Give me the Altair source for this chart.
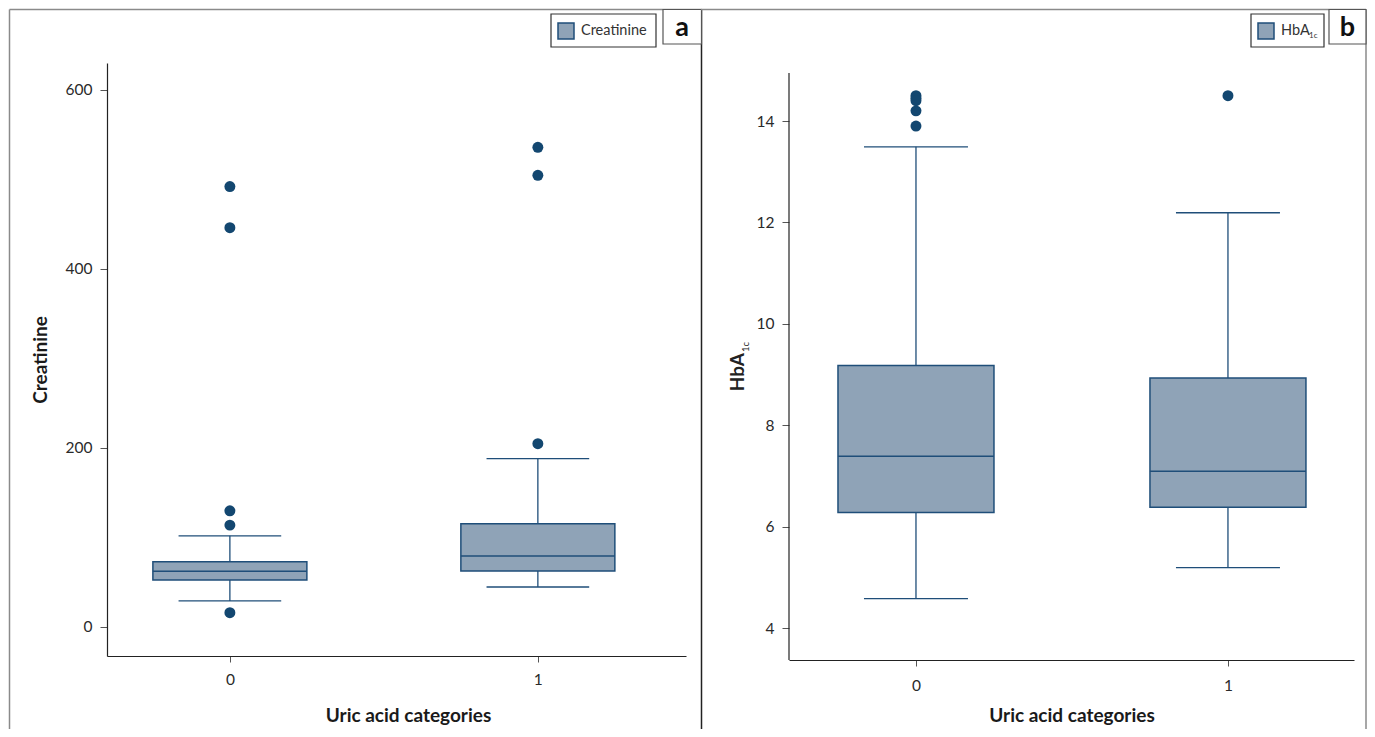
import altair as alt
import pandas as pd

# ---------------- data ----------------
cats = [0, 1]

cre_lower = [29.1, 44.7]
cre_q1 = [52.6, 62.6]
cre_median = [62.3, 79.4]
cre_q3 = [73.0, 115.2]
cre_upper = [101.8, 188.0]
cre_out_cat = [0, 0, 0, 0, 0, 1, 1, 1]
cre_out_val = [492.0, 446.0, 129.8, 113.8, 16.0, 535.8, 504.5, 204.7]

hba_lower = [4.58, 5.19]
hba_q1 = [6.28, 6.38]
hba_median = [7.39, 7.09]
hba_q3 = [9.18, 8.93]
hba_upper = [13.49, 12.19]
hba_out_cat = [0, 0, 0, 0, 0, 1]
hba_out_val = [14.50, 14.45, 14.40, 14.20, 13.90, 14.50]

cre_ticks = [0, 200, 400, 600]
hba_ticks = [4, 6, 8, 10, 12, 14]
x_ticks = [0, 1]

FONT = "Lato"
BOX_FILL = "#8FA3B7"
BOX_STROKE = "#1F4E79"
DOT = "#134770"
FRAME = "#8a8a8a"


def panel(lower, q1, med, q3, upper, out_cat, out_val, ydom, yticks, xdom,
          w, h, ytitle, xtitle_x, xtitle_y, xlab_pad, draw_ydomain):
    stats = pd.DataFrame({"cat": cats, "lower": lower, "q1": q1, "median": med,
                          "q3": q3, "upper": upper})
    outs = pd.DataFrame({"cat": out_cat, "val": out_val})

    xscale = alt.Scale(domain=xdom, nice=False, zero=False)
    yscale = alt.Scale(domain=ydom, nice=False, zero=False)
    xaxis = alt.Axis(values=x_ticks, format="d", title="Uric acid categories",
                     tickSize=6, labelPadding=xlab_pad, labelBaseline="alphabetic",
                     titleX=xtitle_x, titleY=xtitle_y, titleBaseline="alphabetic")
    if ytitle is not None:
        yaxis = alt.Axis(values=yticks, title=ytitle, tickSize=7, labelPadding=8,
                         titleX=-61, titleY=h / 2, titleBaseline="alphabetic",
                         domain=draw_ydomain)
    else:
        yaxis = alt.Axis(values=yticks, title=None, tickSize=7, labelPadding=8,
                         domain=draw_ydomain)

    base = alt.Chart(stats).transform_calculate(
        lo="datum.cat - 0.25", hi="datum.cat + 0.25",
        clo="datum.cat - 1/6", chi="datum.cat + 1/6")

    def X(f):
        return alt.X(f, type="quantitative", scale=xscale, axis=xaxis)

    def Y(f):
        return alt.Y(f, type="quantitative", scale=yscale, axis=yaxis)

    whisk_lo = base.mark_rule(color=BOX_STROKE, strokeWidth=1.3).encode(
        x=X("cat"), y=Y("lower"), y2="q1")
    whisk_hi = base.mark_rule(color=BOX_STROKE, strokeWidth=1.3).encode(
        x=X("cat"), y=Y("q3"), y2="upper")
    cap_lo = base.mark_rule(color=BOX_STROKE, strokeWidth=1.3).encode(
        x=X("clo"), x2="chi", y=Y("lower"))
    cap_hi = base.mark_rule(color=BOX_STROKE, strokeWidth=1.3).encode(
        x=X("clo"), x2="chi", y=Y("upper"))
    box = base.mark_bar(fill=BOX_FILL, stroke=BOX_STROKE, strokeWidth=1.5).encode(
        x=X("lo"), x2="hi", y=Y("q1"), y2="q3")
    median = base.mark_rule(color=BOX_STROKE, strokeWidth=1.5).encode(
        x=X("lo"), x2="hi", y=Y("median"))
    dots = alt.Chart(outs).mark_circle(size=120, color=DOT, opacity=1).encode(
        x=X("cat"), y=Y("val"))

    return [whisk_lo, whisk_hi, cap_lo, cap_hi, box, median, dots]


one = pd.DataFrame({"k": [0]})


def rule(x, y, x2=None, y2=None, color=FRAME, width=1.5):
    enc = {"x": alt.value(x), "y": alt.value(y)}
    if x2 is not None:
        enc["x2"] = alt.value(x2)
    if y2 is not None:
        enc["y2"] = alt.value(y2)
    return alt.Chart(one).mark_rule(color=color, strokeWidth=width).encode(**enc)


def rect(x, x2, y, y2, fill, stroke, width=1.2):
    return alt.Chart(one).mark_rect(fill=fill, stroke=stroke, strokeWidth=width).encode(
        x=alt.value(x), x2=alt.value(x2), y=alt.value(y), y2=alt.value(y2))


def text(t, x, y, size, weight="normal", align="left", baseline="middle", angle=0,
         color="#333333"):
    return alt.Chart(one).mark_text(text=t, font=FONT, fontSize=size, fontWeight=weight,
                                    align=align, baseline=baseline, angle=angle,
                                    color=color).encode(x=alt.value(x), y=alt.value(y))


# ---------------- panel a ----------------
W1, H1 = 579, 593
layers_a = panel(cre_lower, cre_q1, cre_median, cre_q3, cre_upper, cre_out_cat, cre_out_val,
                 [-32.4, 630.0], cre_ticks, [-0.399, 1.481], W1, H1, "Creatinine",
                 301, 65, 22, True)
deco_a = [
    rule(-97.5, -53.5, x2=594.5),                  # top frame
    rule(-97.5, -53.5, y2=666),                    # left frame
    rule(594.5, -53.5, y2=666, color="#222222"),   # divider
    rect(444, 549, -49, -16, "white", "#333333"),
    rect(451, 467, -40, -24, BOX_FILL, BOX_STROKE, 1.5),
    text("Creatinine", 474, -32, 14.5),
    rect(556, 594.5, -53.5, -19, "white", "#555555"),
    text("a", 575, -35, 27, weight="bold", align="center", color="#111111"),
]
chart_a = alt.layer(*layers_a, *deco_a).properties(width=W1, height=H1)

# ---------------- panel b ----------------
W2, H2 = 565, 597
layers_b = panel(hba_lower, hba_q1, hba_median, hba_q3, hba_upper, hba_out_cat, hba_out_val,
                 [3.369, 15.144], hba_ticks, [-0.407, 1.404], W2, H2, None,
                 W2 / 2, 61, 24, False)
deco_b = [
    rule(0, 10, y2=H2, color="#222222", width=1.2),  # y axis line
    rule(-88, -53.5, x2=577),                      # top frame
    rule(577, -53.5, y2=666),                      # right frame
    rect(462, 535, -49, -16, "white", "#333333"),
    rect(469, 485, -40, -24, BOX_FILL, BOX_STROKE, 1.5),
    text("HbA", 492, -32, 14.5),
    text("1c", 520, -27, 8),
    rect(540, 577, -53.5, -19, "white", "#555555"),
    text("b", 558.5, -35, 27, weight="bold", align="center", color="#111111"),
    text("HbA", -45, 290, 19, weight="bold", align="right", baseline="alphabetic",
         angle=270, color="#222222"),
    text("1c", -40, 289, 9.5, align="left", baseline="alphabetic", angle=270,
         color="#222222"),
]
chart_b = alt.layer(*layers_b, *deco_b).properties(width=W2, height=H2)

chart = alt.hconcat(chart_a, chart_b, spacing=103, bounds="flush").properties(
    padding=0
).configure_view(stroke=None).configure_axis(
    grid=False, domainColor="#222222", domainWidth=1.2, tickColor="#555555",
    tickWidth=1, labelColor="#2a2a2a", labelFont=FONT, labelFontSize=15.5,
    titleFont=FONT, titleFontSize=19, titleFontWeight="bold", titleColor="#1a1a1a",
)

chart.save("out.html", embed_options={"renderer": "svg", "actions": False})
